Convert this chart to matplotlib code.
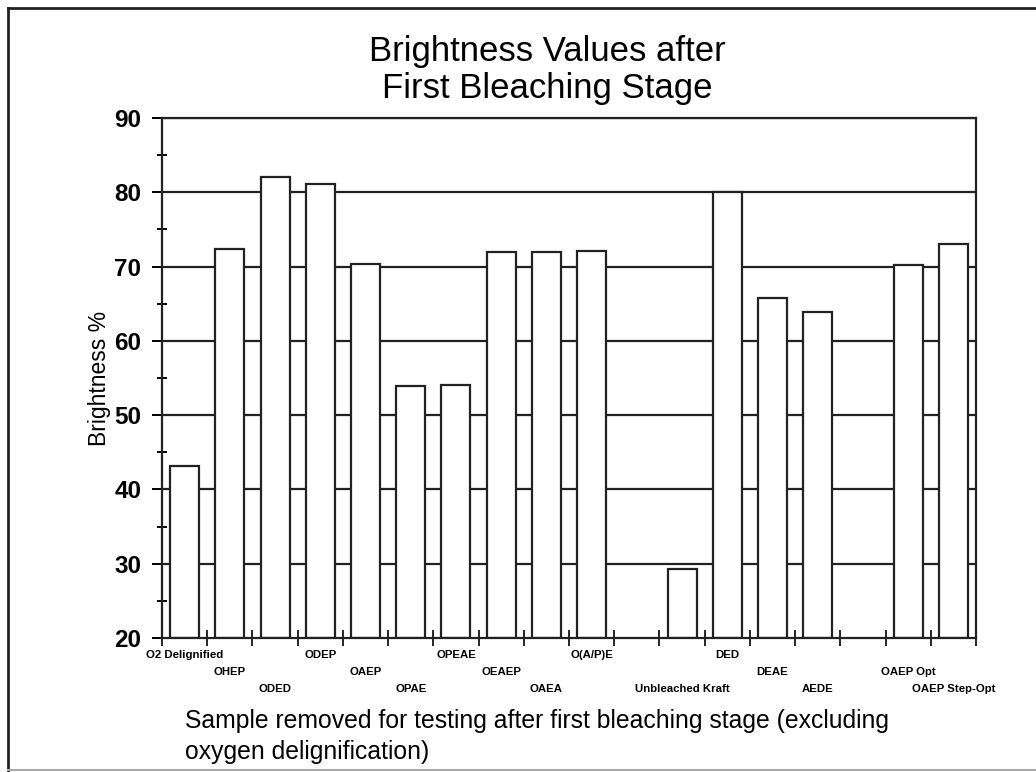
import matplotlib
matplotlib.use("Agg")
import matplotlib.pyplot as plt
from matplotlib.lines import Line2D
import numpy as np

plt.rcParams['font.family'] = ['Liberation Sans', 'DejaVu Sans']

# sample names, in chart order (empty string = gap in the chart)
samples = ["O2 Delignified", "OHEP", "ODED", "ODEP", "OAEP", "OPAE", "OPEAE",
           "OEAEP", "OAEA", "O(A/P)E", "", "Unbleached Kraft", "DED", "DEAE",
           "AEDE", "", "OAEP Opt", "OAEP Step-Opt"]
# brightness %, None where there is no bar
brightness = [43.2, 72.4, 82.1, 81.1, 70.3, 53.9, 54.0,
              71.9, 71.9, 72.1, None, 29.3, 80.0, 65.7,
              63.9, None, 70.2, 73.0]

y_ticks = [20, 30, 40, 50, 60, 70, 80, 90]


def main():
    fig = plt.figure(figsize=(10.36, 7.72), dpi=100)
    ax = fig.add_axes([0.1564, 0.1736, 0.7857, 0.6736])

    n = len(samples)
    centers = np.arange(n) + 0.5

    # horizontal gridlines behind the bars
    for y in y_ticks[1:]:
        ax.axhline(y, color='#222222', lw=1.6, zorder=1)

    for x, v in zip(centers, brightness):
        if v is None:
            continue
        ax.bar(x, v - 20, bottom=20, width=0.64, color='white',
               edgecolor='#222222', linewidth=1.6, zorder=2)

    ax.set_xlim(0, n)
    ax.set_ylim(20, 90)

    ax.set_yticks(y_ticks)
    ax.set_yticks(np.arange(25, 90, 10), minor=True)
    ax.tick_params(axis='y', which='major', direction='out', length=7,
                   width=1.4, labelsize=17.5, pad=8)
    ax.tick_params(axis='y', which='minor', direction='inout', length=7,
                   width=1.4)
    for lbl in ax.get_yticklabels():
        lbl.set_fontweight('bold')

    ax.set_xticks(np.arange(0, n + 1))
    ax.set_xticklabels([])
    ax.tick_params(axis='x', which='major', direction='inout', length=12,
                   width=1.2)

    # staggered category labels, three rows
    for i, (x, name) in enumerate(zip(centers, samples)):
        if not name:
            continue
        row = i % 3
        ax.annotate(name, xy=(x, 0), xycoords=('data', 'axes fraction'),
                    xytext=(0, -12.3 - row * 12.2), textcoords='offset points',
                    ha='center', va='center', fontsize=8.2, fontweight='bold')

    for side in ['left', 'right', 'top', 'bottom']:
        ax.spines[side].set_linewidth(1.6)
        ax.spines[side].set_color('#222222')

    ax.set_ylabel("Brightness %", fontsize=16.5)
    ax.yaxis.set_label_coords(-0.063, 0.5)

    fig.text(0.528, 0.909, "Brightness Values after\nFirst Bleaching Stage",
             ha='center', va='center', fontsize=25, linespacing=1.15)

    fig.text(0.1786, 0.046,
             "Sample removed for testing after first bleaching stage (excluding\n"
             "oxygen delignification)",
             ha='left', va='center', fontsize=17.8, linespacing=1.35)

    # page border
    fig.add_artist(Line2D([0.008, 1.0], [0.99, 0.99], transform=fig.transFigure,
                          color='#222222', lw=2))
    fig.add_artist(Line2D([0.008, 0.008], [0.0, 0.99], transform=fig.transFigure,
                          color='#222222', lw=2))
    fig.add_artist(Line2D([0.008, 1.0], [0.003, 0.003], transform=fig.transFigure,
                          color='#aaaaaa', lw=1.5))

    fig.savefig("out.png", dpi=100, facecolor='white')


if __name__ == "__main__":
    main()
